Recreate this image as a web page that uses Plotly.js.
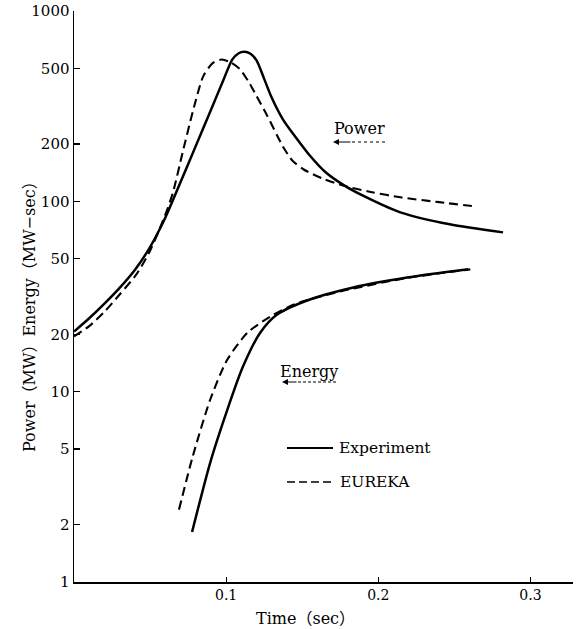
<!DOCTYPE html>
<html>
<head>
<meta charset="utf-8">
<script src="https://cdn.plot.ly/plotly-3.0.1.min.js"></script>
<style>
  html, body { margin: 0; padding: 0; background: #fff; }
  #chart { width: 585px; height: 629px; }
</style>
</head>
<body>
<div id="chart"></div>
<script>
// Reactor transient: measured power / energy against the EUREKA calculation
const powerExpT = [0.000, 0.010, 0.020, 0.030, 0.040, 0.050, 0.060, 0.070, 0.080, 0.090, 0.098, 0.104, 0.108, 0.112, 0.116, 0.120, 0.125, 0.130, 0.1375, 0.145, 0.155, 0.165, 0.177, 0.190, 0.2145, 0.247, 0.282];
const powerExpV = [20.7, 24.3, 29.0, 35.1, 43.6, 57.5, 82, 126, 195, 302, 430, 555, 598, 610, 596, 550, 440, 350, 268, 221, 174, 143, 122, 107, 87.5, 75.7, 68.7];

const powerEurT = [0.000, 0.010, 0.020, 0.030, 0.041, 0.050, 0.060, 0.065, 0.0715, 0.078, 0.085, 0.091, 0.097, 0.103, 0.109, 0.115, 0.120, 0.127, 0.1335, 0.138, 0.1435, 0.151, 0.163, 0.177, 0.195, 0.2145, 0.240, 0.264];
const powerEurV = [19.5, 22.1, 26.3, 32.4, 41.3, 55, 85, 111, 182, 294, 455, 531, 556, 537, 495, 422, 357, 282, 222, 190, 164, 147, 132, 121, 112, 105, 99, 94];

const energyExpT = [0.0776, 0.0895, 0.1007, 0.111, 0.1224, 0.1335, 0.155, 0.1836, 0.219, 0.259];
const energyExpV = [1.83, 4.23, 8.0, 13.5, 20.4, 25.4, 30.5, 35.3, 39.8, 44];

const energyEurT = [0.069, 0.078, 0.0895, 0.1007, 0.114, 0.129, 0.145, 0.175, 0.219, 0.2605];
const energyEurV = [2.4, 4.55, 9.07, 14.7, 20.4, 24.8, 28.8, 33.6, 39.6, 43.9];

const xTicks = [0.1, 0.2, 0.3];
const xTickText = ['0.1', '0.2', '0.3'];
const yTicks = [1, 2, 5, 10, 20, 50, 100, 200, 500, 1000];
const yTickText = ['1', '2', '5', '10', '20', '50', '100', '200', '500', '1000'];

const SERIF = '"DejaVu Serif", "Noto Sans CJK JP", serif';
const solid = { color: '#000', width: 2.5, shape: 'spline', smoothing: 0.7 };
const dashed = { color: '#000', width: 2.1, dash: '9px,5px', shape: 'spline', smoothing: 0.7 };

const traces = [
  { x: powerExpT, y: powerExpV, mode: 'lines', line: solid, name: 'Power – Experiment' },
  { x: powerEurT, y: powerEurV, mode: 'lines', line: dashed, name: 'Power – EUREKA' },
  { x: energyExpT, y: energyExpV, mode: 'lines', line: solid, name: 'Energy – Experiment' },
  { x: energyEurT, y: energyEurV, mode: 'lines', line: dashed, name: 'Energy – EUREKA' }
];

// helpers: page pixel -> paper fraction of the plot area
const L = 74, R = 573, T = 11, B = 582;
const px = v => (v - L) / (R - L);
const py = v => (B - v) / (B - T);

const txt = (text, x, y, xanchor, size, extra) => Object.assign({
  text, xref: 'paper', yref: 'paper', x: px(x), y: py(y),
  xanchor, yanchor: 'middle', showarrow: false,
  font: { family: SERIF, size: size || 15, color: '#000' }
}, extra || {});

const arrow = (headX, tailX, y) => ({
  text: '', xref: 'paper', yref: 'paper', x: px(headX), y: py(y),
  ax: tailX - headX, ay: 0, showarrow: true,
  arrowhead: 2, arrowsize: 1.2, arrowwidth: 1, arrowcolor: '#000', standoff: 0
});

const hline = (x0, x1, y, width, dash) => ({
  type: 'line', xref: 'paper', yref: 'paper',
  x0: px(x0), x1: px(x1), y0: py(y), y1: py(y),
  line: { color: '#000', width, dash: dash || 'solid' }
});

const layout = {
  width: 585, height: 629,
  margin: { l: L, r: 585 - R, t: T, b: 629 - B, pad: 0 },
  paper_bgcolor: '#fff', plot_bgcolor: '#fff',
  showlegend: false,
  font: { family: SERIF, size: 15, color: '#000' },
  xaxis: {
    range: [0, 0.328], showgrid: false, zeroline: false,
    showline: true, linecolor: '#000', linewidth: 1.5,
    ticks: 'inside', ticklen: 5, tickwidth: 1.2, tickcolor: '#000',
    tickvals: xTicks, ticktext: xTickText,
    tickfont: { family: SERIF, size: 14, color: '#000' }
  },
  yaxis: {
    type: 'log', range: [0, 3], showgrid: false, zeroline: false,
    showline: true, linecolor: '#000', linewidth: 1.5,
    ticks: 'inside', ticklen: 6, tickwidth: 1.2, tickcolor: '#000',
    tickvals: yTicks, ticktext: yTickText,
    tickfont: { family: SERIF, size: 15, color: '#000' }
  },
  annotations: [
    txt('Time（sec）', 305, 618, 'center', 16),
    txt('Power（MW）Energy（MW−sec）', 30, 313, 'center', 16, { textangle: -90 }),
    txt('Power', 359, 128, 'center', 16),
    arrow(333, 352, 142),
    txt('Energy', 309, 371, 'center', 16),
    arrow(282, 298, 382),
    txt('Experiment', 337, 448, 'left', 15.5),
    txt('EUREKA', 338, 482, 'left', 15.5)
  ],
  shapes: [
    hline(352, 385, 142, 1, 'dot'),
    hline(298, 338, 382, 1, '3px,2px'),
    hline(287, 333, 448, 2),
    hline(287, 333, 482, 1.6, '8px,4px')
  ]
};

Plotly.newPlot('chart', traces, layout, { staticPlot: true, displayModeBar: false });
</script>
</body>
</html>
